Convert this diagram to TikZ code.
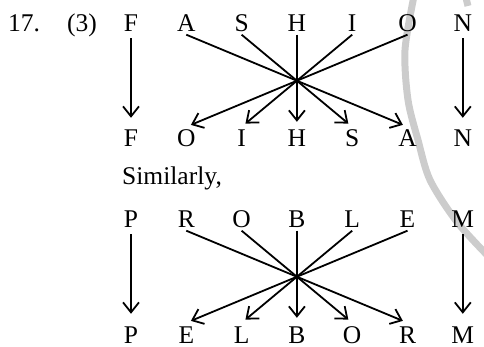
\documentclass[tikz,border=0pt]{standalone}
\usepackage{fontspec}
\setmainfont{Liberation Serif}
\usepackage{tikz}
\usetikzlibrary{arrows.meta,positioning}

\begin{document}
\begin{tikzpicture}[x=1pt, y=-1pt, on grid, node distance=115.5pt and 55.3pt,
  every node/.style={font=\fontsize{25.5}{30}\selectfont},
  ltr/.style={inner xsep=0pt, inner ysep=3pt, text height=17pt, text depth=0pt},
  arr/.style={-{Straight Barb[length=10pt,width=16pt]}, line width=1.8pt, shorten >=5pt},
  varr/.style={arr, shorten <=3.5pt, shorten >=9pt},
  wmark/.style={line width=7pt, black!20}]
\useasboundingbox (0,0) rectangle (484,347);
% faint scan mark behind the letters
\draw[wmark] plot[smooth] coordinates {(414,-4) (405,50) (408,100) (418,140) (430,180) (457,222) (490,258)};
\draw[wmark] (466,-2) -- (468,6);
% question number
\node[ltr, anchor=base west] (num) at (8,31.5) {17.};
\node[ltr, anchor=base west] (opt) at (67,31.5) {(3)};
% FASHION -> FOIHSAN
\node[ltr] (f1) at (131,23) {F};
\node[ltr, right=of f1] (a1) {A};
\node[ltr, right=of a1] (s1) {S};
\node[ltr, right=of s1] (h1) {H};
\node[ltr, right=of h1] (i1) {I};
\node[ltr, right=of i1] (o1) {O};
\node[ltr, right=of o1] (n1) {N};
\node[ltr, below=of f1] (f2) {F};
\node[ltr, right=of f2] (o2) {O};
\node[ltr, right=of o2] (i2) {I};
\node[ltr, right=of i2] (h2) {H};
\node[ltr, right=of h2] (s2) {S};
\node[ltr, right=of s2] (a2) {A};
\node[ltr, right=of a2] (n2) {N};
\draw[varr] (f1) -- (f2); \draw[varr] (n1) -- (n2);
\draw[arr] (a1.south) -- (a2.north); \draw[arr] (s1.south) -- (s2.north); \draw[arr] (h1.south) -- (h2.north);
\draw[arr] (i1.south) -- (i2.north); \draw[arr] (o1.south) -- (o2.north);
\node[ltr, anchor=base west] (sim) at (122,185) {Similarly,};
% PROBLEM -> PELBORM
\node[ltr] (p3) at (131,219) {P};
\node[ltr, right=of p3] (r3) {R};
\node[ltr, right=of r3] (o3) {O};
\node[ltr, right=of o3] (b3) {B};
\node[ltr, right=of b3] (l3) {L};
\node[ltr, right=of l3] (e3) {E};
\node[ltr, right=of e3] (m3) {M};
\node[ltr, below=of p3] (p4) {P};
\node[ltr, right=of p4] (e4) {E};
\node[ltr, right=of e4] (l4) {L};
\node[ltr, right=of l4] (b4) {B};
\node[ltr, right=of b4] (o4) {O};
\node[ltr, right=of o4] (r4) {R};
\node[ltr, right=of r4] (m4) {M};
\draw[varr] (p3) -- (p4); \draw[varr] (m3) -- (m4);
\draw[arr] (r3.south) -- (r4.north); \draw[arr] (o3.south) -- (o4.north); \draw[arr] (b3.south) -- (b4.north);
\draw[arr] (l3.south) -- (l4.north); \draw[arr] (e3.south) -- (e4.north);
\end{tikzpicture}
\end{document}
